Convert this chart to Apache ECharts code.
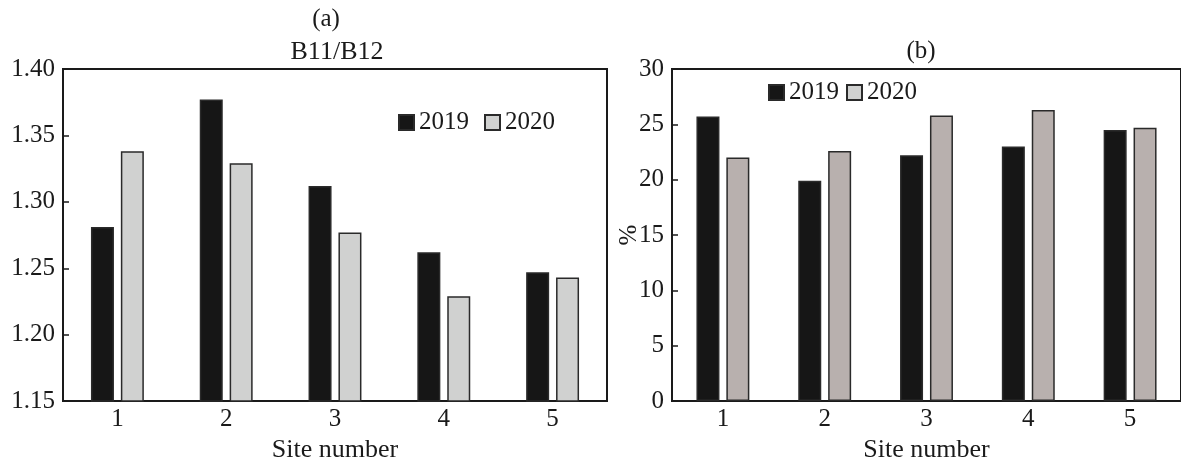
<!DOCTYPE html>
<html>
<head>
    <meta charset="utf-8">
    <title>B11/B12 and % by site</title>
    <script src="https://cdn.jsdelivr.net/npm/echarts@6/dist/echarts.min.js"></script>
    <style>
        html, body { margin: 0; padding: 0; background: #fff; }
        #chart-container { width: 1181px; height: 468px; }
    </style>
</head>
<body>
<div id="chart-container"></div>

<script>
    // data
    var sites = ['1', '2', '3', '4', '5'];
    var years = ['2019', '2020'];
    var ratio2019 = [1.281, 1.377, 1.312, 1.262, 1.247];
    var ratio2020 = [1.338, 1.329, 1.277, 1.229, 1.243];
    var pct2019 = [25.7, 19.9, 22.2, 23.0, 24.5];
    var pct2020 = [22.0, 22.6, 25.8, 26.3, 24.7];

    var FONT = '"Liberation Serif", "Times New Roman", serif';
    var INK = '#1a1a1a';

    var myChart = echarts.init(document.getElementById('chart-container'));

    function xAxisFor(idx) {
        return {
            type: 'category',
            gridIndex: idx,
            data: sites,
            name: 'Site number',
            nameLocation: 'middle',
            nameGap: 30,
            nameTextStyle: { fontFamily: FONT, fontSize: 26, color: INK },
            axisLine: { lineStyle: { color: INK, width: 2 } },
            axisTick: { show: false },
            axisLabel: { fontFamily: FONT, fontSize: 25, color: INK, margin: 6 }
        };
    }

    function barSeries(name, axisIdx, values, fill) {
        return {
            name: name,
            type: 'bar',
            xAxisIndex: axisIdx,
            yAxisIndex: axisIdx,
            data: values,
            barWidth: 23,
            barGap: '30%',
            itemStyle: { color: fill, borderColor: '#2a2a2a', borderWidth: 1.5 }
        };
    }

    var option = {
        animation: false,
        grid: [
            { left: 63, top: 69, right: 574, bottom: 65, show: true, borderColor: INK, borderWidth: 2 },
            { left: 672, top: 69, right: -10, bottom: 65, show: true, borderColor: INK, borderWidth: 2 }
        ],
        legend: [
            {
                data: years.map(function (y) { return { name: y }; }),
                left: 398, top: 110, padding: 0,
                itemWidth: 15, itemHeight: 15, itemGap: 15,
                icon: 'rect',
                textStyle: { fontFamily: FONT, fontSize: 25, color: INK },
                seriesIndex: [0, 1]
            },
            {
                data: years.map(function (y) { return { name: y }; }),
                left: 768, top: 80, padding: 0,
                itemWidth: 15, itemHeight: 15, itemGap: 7,
                icon: 'rect',
                textStyle: { fontFamily: FONT, fontSize: 25, color: INK },
                seriesIndex: [2, 3]
            }
        ],
        xAxis: [xAxisFor(0), xAxisFor(1)],
        yAxis: [
            {
                type: 'value', gridIndex: 0,
                min: 1.15, max: 1.40, interval: 0.05,
                axisLine: { show: true, lineStyle: { color: INK, width: 2 } },
                axisTick: { show: true, inside: true, length: 6, lineStyle: { color: INK, width: 1.5 } },
                splitLine: { show: false },
                axisLabel: {
                    fontFamily: FONT, fontSize: 25, color: INK, margin: 8,
                    formatter: function (v) { return v.toFixed(2); }
                }
            },
            {
                type: 'value', gridIndex: 1,
                min: 0, max: 30, interval: 5,
                name: '%',
                nameLocation: 'middle',
                nameGap: 30,
                nameMoveOverlap: false,
                nameTextStyle: { fontFamily: FONT, fontSize: 25, color: INK },
                axisLine: { show: true, lineStyle: { color: INK, width: 2 } },
                axisTick: { show: true, inside: true, length: 6, lineStyle: { color: INK, width: 1.5 } },
                splitLine: { show: false },
                axisLabel: { fontFamily: FONT, fontSize: 25, color: INK, margin: 8 }
            }
        ],
        graphic: [
            { type: 'text', x: 326, y: 19, style: { text: '(a)', font: '25px ' + FONT, fill: INK, align: 'center', verticalAlign: 'middle' } },
            { type: 'text', x: 337, y: 52, style: { text: 'B11/B12', font: '26px ' + FONT, fill: INK, align: 'center', verticalAlign: 'middle' } },
            { type: 'text', x: 921, y: 51, style: { text: '(b)', font: '25px ' + FONT, fill: INK, align: 'center', verticalAlign: 'middle' } }
        ],
        series: [
            barSeries(years[0], 0, ratio2019, '#161616'),
            barSeries(years[1], 0, ratio2020, '#d0d1d0'),
            barSeries(years[0], 1, pct2019, '#161616'),
            barSeries(years[1], 1, pct2020, '#b8b0ae')
        ]
    };

    myChart.setOption(option);
</script>
</body>
</html>
